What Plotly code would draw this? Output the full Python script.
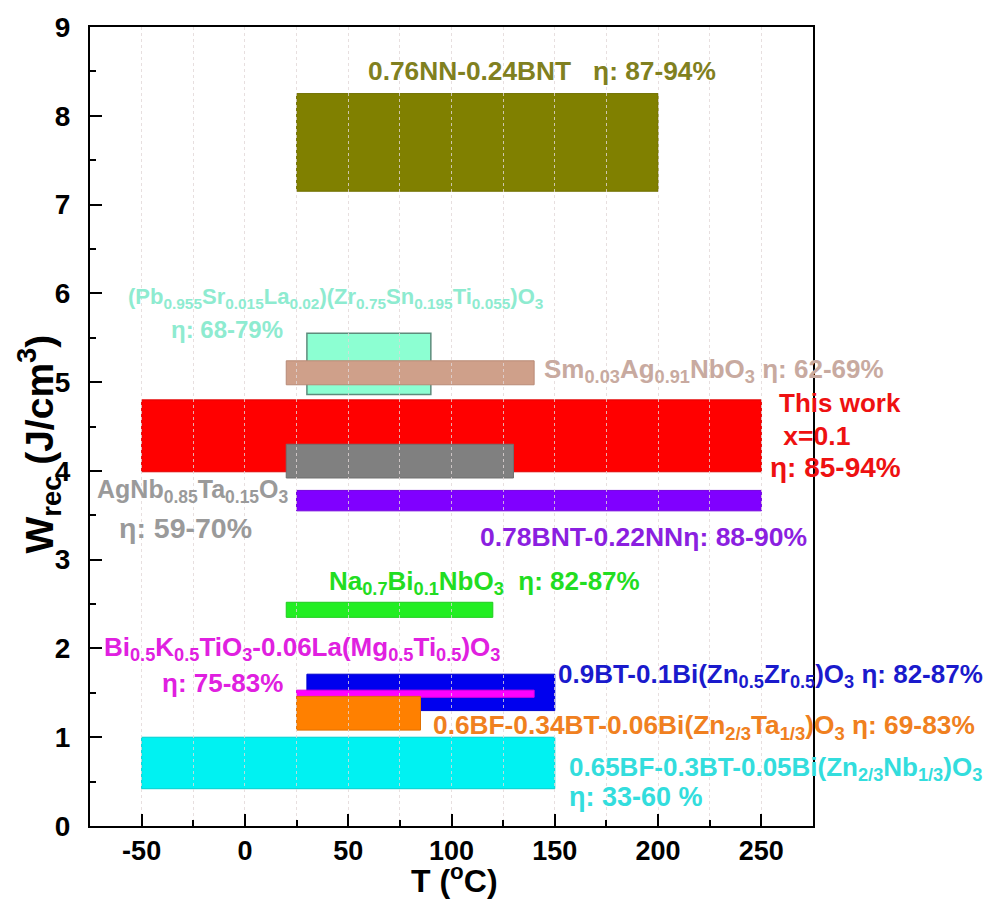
import plotly.graph_objects as go

# ---- data ----
materials = [
    "0.65BF-0.3BT-0.05Bi(Zn2/3Nb1/3)O3",
    "0.9BT-0.1Bi(Zn0.5Zr0.5)O3",
    "Bi0.5K0.5TiO3-0.06La(Mg0.5Ti0.5)O3",
    "0.6BF-0.34BT-0.06Bi(Zn2/3Ta1/3)O3",
    "Na0.7Bi0.1NbO3",
    "0.78BNT-0.22NN",
    "This work x=0.1",
    "AgNb0.85Ta0.15O3",
    "(Pb0.955Sr0.015La0.02)(Zr0.75Sn0.195Ti0.055)O3",
    "Sm0.03Ag0.91NbO3",
    "0.76NN-0.24BNT",
]
t_min = [-50, 30, 25, 25, 20, 25, -50, 20, 30, 20, 25]
t_max = [150, 150, 140, 85, 120, 250, 250, 130, 90, 140, 200]
w_min = [0.42, 1.30, 1.45, 1.08, 2.35, 3.55, 3.99, 3.92, 4.86, 4.97, 7.15]
w_max = [1.00, 1.71, 1.53, 1.46, 2.52, 3.78, 4.80, 4.30, 5.55, 5.24, 8.25]
eta = ["33-60 %", "82-87%", "75-83%", "69-83%", "82-87%", "88-90%",
       "85-94%", "59-70%", "68-79%", "62-69%", "87-94%"]

x_ticks = [-50, 0, 50, 100, 150, 200, 250]
y_ticks = [0, 1, 2, 3, 4, 5, 6, 7, 8, 9]

# ---- styles ----
fill_colors = ["#00F2F2", "#0000EE", "#FF00FF", "#FF8000", "#22EE22", "#8000FF",
               "#FF0000", "#808080", "#8CFFD2", "#CFA08A", "#808000"]
edge_colors = ["#00D0D0", "#0000CC", "#E000E0", "#E07000", "#20CC20", "#7000DD",
               "#E00000", "#707070", "#5E8C7C", "#B88A76", "#707000"]
text_colors = ["#33DDDD", "#1A1ACC", "#E020E0", "#F08020", "#22DD22", "#8B1FE0",
               "#EE1111", "#9A9A9A", "#8EEBD0", "#C8AAA0", "#808020"]

# label layout: (material index, text, x, y, font size)
labels = [
    (10, "0.76NN-0.24BNT   η: " + eta[10], 58.5, 8.51, 26.3),
    (8, "(Pb<sub>0.955</sub>Sr<sub>0.015</sub>La<sub>0.02</sub>)(Zr<sub>0.75</sub>Sn<sub>0.195</sub>Ti<sub>0.055</sub>)O<sub>3</sub>", -57.5, 5.95, 22),
    (8, "η: " + eta[8], -37, 5.59, 24),
    (9, "Sm<sub>0.03</sub>Ag<sub>0.91</sub>NbO<sub>3</sub> η: " + eta[9], 144, 5.13, 26),
    (6, "This work", 257.5, 4.76, 26),
    (6, " x=0.1", 256, 4.39, 26.5),
    (6, "η: " + eta[6], 253, 4.04, 28),
    (7, "AgNb<sub>0.85</sub>Ta<sub>0.15</sub>O<sub>3</sub>", -72.5, 3.77, 25),
    (7, "η: " + eta[7], -62, 3.36, 28.5),
    (5, "0.78BNT-0.22NNη: " + eta[5], 112.6, 3.25, 26.5),
    (4, "Na<sub>0.7</sub>Bi<sub>0.1</sub>NbO<sub>3</sub>  η: " + eta[4], 39.5, 2.74, 26),
    (2, "Bi<sub>0.5</sub>K<sub>0.5</sub>TiO<sub>3</sub>-0.06La(Mg<sub>0.5</sub>Ti<sub>0.5</sub>)O<sub>3</sub>", -69.4, 2.0, 26),
    (2, "η: " + eta[2], -41.3, 1.61, 26),
    (1, "0.9BT-0.1Bi(Zn<sub>0.5</sub>Zr<sub>0.5</sub>)O<sub>3</sub> η: " + eta[1], 150.8, 1.69, 26),
    (3, "0.6BF-0.34BT-0.06Bi(Zn<sub>2/3</sub>Ta<sub>1/3</sub>)O<sub>3</sub> η: " + eta[3], 90.3, 1.12, 26.3),
    (0, "0.65BF-0.3BT-0.05Bi(Zn<sub>2/3</sub>Nb<sub>1/3</sub>)O<sub>3</sub>", 155.7, 0.65, 26),
    (0, "η: " + eta[0], 155.7, 0.33, 27),
]

FONT = "Liberation Sans, Arial, Helvetica, sans-serif"

fig = go.Figure()
# invisible trace anchoring the axes
fig.add_trace(go.Scatter(x=[min(t_min), max(t_max)], y=[min(w_min), max(w_max)],
                         mode="markers", marker=dict(opacity=0), hoverinfo="skip",
                         showlegend=False))

for i in range(len(materials)):
    fig.add_shape(type="rect", xref="x", yref="y",
                  x0=t_min[i], x1=t_max[i], y0=w_min[i], y1=w_max[i],
                  fillcolor=fill_colors[i],
                  line=dict(color=edge_colors[i], width=1.5 if i == 8 else 1),
                  layer="below")

for idx, txt, lx, ly, fs in labels:
    fig.add_annotation(x=lx, y=ly, xref="x", yref="y", text=txt,
                       showarrow=False, xanchor="left", yanchor="middle",
                       font=dict(family=FONT, size=fs, color=text_colors[idx], weight="bold"))

# axis titles
fig.add_annotation(x=-0.07, y=0.478, xref="paper", yref="paper", textangle=-90,
                   text="W<sub>rec</sub> (J/cm<sup>3</sup>)", showarrow=False,
                   xanchor="center", yanchor="middle",
                   font=dict(family=FONT, size=39, color="black", weight="bold"))
fig.add_annotation(x=0.504, y=-0.066, xref="paper", yref="paper",
                   text="T (<sup>o</sup>C)", showarrow=False,
                   xanchor="center", yanchor="middle",
                   font=dict(family=FONT, size=32, color="black", weight="bold"))

fig.update_layout(
    width=983, height=894,
    margin=dict(l=82, r=178, t=19, b=76),
    paper_bgcolor="white", plot_bgcolor="white",
    font=dict(family=FONT, color="black", weight="bold"),
    showlegend=False,
)
fig.update_xaxes(
    range=[-75, 275], tickvals=x_ticks, ticktext=[str(v) for v in x_ticks],
    ticks="inside", ticklen=12, tickwidth=2, tickcolor="black",
    showline=True, linewidth=2, linecolor="black", mirror=True,
    showgrid=False, zeroline=False, automargin=False,
    tickfont=dict(family=FONT, size=27, color="black", weight="bold"),
    minor=dict(dtick=25, tick0=-75, ticks="inside", ticklen=6, tickwidth=2,
               tickcolor="black", showgrid=True, gridcolor="rgba(225,215,215,0.8)",
               griddash="dot", gridwidth=1),
)
fig.update_yaxes(
    range=[0, 9], tickvals=y_ticks, ticktext=[str(v) for v in y_ticks],
    ticks="inside", ticklen=12, tickwidth=2, tickcolor="black",
    showline=True, linewidth=2, linecolor="black", mirror=True,
    showgrid=False, zeroline=False, automargin=False,
    ticklabelstandoff=12,
    tickfont=dict(family=FONT, size=28, color="black", weight="bold"),
    minor=dict(dtick=0.5, ticks="inside", ticklen=6, tickwidth=2, tickcolor="black"),
)

fig.write_html("out.html")
